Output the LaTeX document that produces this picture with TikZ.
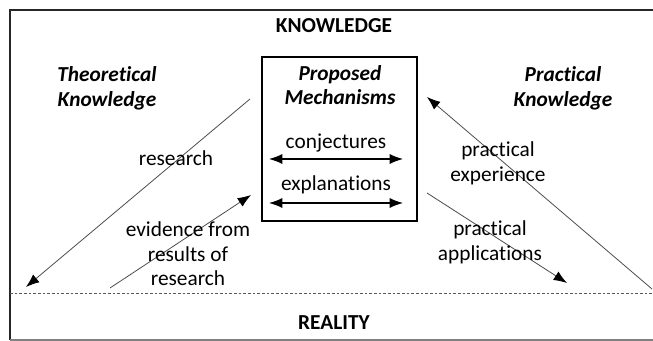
\documentclass[tikz,border=0pt]{standalone}
\usepackage{fontspec}
\setmainfont{Carlito}[Ligatures=NoCommon]
\usetikzlibrary{arrows.meta}

\tikzset{
  txt/.style={font=\fontsize{16}{18.5}\selectfont, align=center, inner sep=0pt},
  heading/.style={txt, font=\fontsize{16}{18.5}\selectfont\bfseries\itshape},
  link/.style={->, gray!60!black, line width=0.6pt},
  twoway/.style={<->, black, line width=0.8pt}
}

\begin{document}
\begin{tikzpicture}[>={Latex[length=10pt,width=7.5pt,color=black]}, x=0.75pt, y=-0.75pt]
    \useasboundingbox (0,0) rectangle (653,341);
    % outer frame, open on the right
    \coordinate (fTR) at (653,10); \coordinate (fTL) at (10,10);
    \coordinate (fBL) at (10,340); \coordinate (fBR) at (653,340);
    \draw[line width=1.3pt, black!85] (fTR) -- (fTL) -- (fBL);
    \draw[line width=1pt, gray] (fBL) -- (fBR);
    \coordinate (dL) at (10,293); \coordinate (dR) at (653,293);
    \draw[gray!70!black, line width=0.5pt, dash pattern=on 2pt off 1.5pt] (dL) -- (dR);

    \node[txt] (know) at (334,26) {\textbf{KNOWLEDGE}};
    \node[txt] (real) at (334,323) {\textbf{REALITY}};
    \node[heading] (theo) at (107,88) {Theoretical\\Knowledge};
    \node[heading] (prac) at (563,88) {Practical\\Knowledge};

    % the box in the middle
    \node[draw, line width=1.2pt, minimum width=116.25pt, minimum height=123pt] (mech) at (339.5,139) {};
    \node[heading] (prop) at (340,85) {Proposed\\Mechanisms};
    \node[txt] (conj) at (336,143) {conjectures};
    \node[txt] (expl) at (336,185) {explanations};
    \coordinate (cL) at (269,159); \coordinate (cR) at (403,159);
    \coordinate (eL) at (269,203); \coordinate (eR) at (403,203);
    \draw[twoway] (cL) -- (cR);
    \draw[twoway] (eL) -- (eR);

    % diagonals
    \coordinate (resA) at (250,99); \coordinate (resB) at (26,287);
    \coordinate (evA) at (110,288); \coordinate (evB) at (251,195);
    \coordinate (exA) at (652,289); \coordinate (exB) at (427,97);
    \coordinate (apA) at (427,193); \coordinate (apB) at (567,283);
    \draw[link] (resA) -- (resB);
    \draw[link] (evA) -- (evB);
    \draw[link] (exA) -- (exB);
    \draw[link] (apA) -- (apB);

    \node[txt] (research) at (176,158) {research};
    \node[txt] (evid) at (188,254) {evidence from\\results of\\research};
    \node[txt] (pexp) at (498,163) {practical\\experience};
    \node[txt] (papp) at (490,242) {practical\\applications};
\end{tikzpicture}
\end{document}
